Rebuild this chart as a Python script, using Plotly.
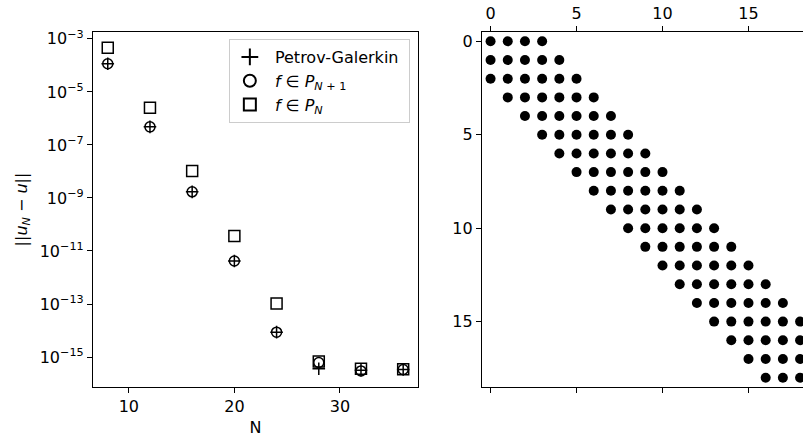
import plotly.graph_objects as go

# ---- left panel data ----
N_vals = [8, 12, 16, 20, 24, 28, 32, 36]
err_petrov = [1.15e-4, 4.8e-7, 1.7e-9, 4.2e-12, 8.7e-15, 3.6e-16, 3.2e-16, 3.4e-16]
err_pn1 = [1.15e-4, 4.8e-7, 1.7e-9, 4.2e-12, 8.7e-15, 6.2e-16, 3.0e-16, 3.4e-16]
err_pn = [4.6e-4, 2.5e-6, 1.05e-8, 3.7e-11, 1.05e-13, 6.8e-16, 3.6e-16, 3.5e-16]
ytick_exps = [-3, -5, -7, -9, -11, -13, -15]

# ---- right panel data: sparsity pattern (first / last nonzero column per row) ----
rows = list(range(19))
row_first = [0, 0, 0, 1, 2, 3, 4, 5, 6, 7, 8, 9, 10, 11, 12, 13, 14, 15, 16]
row_last = [3, 4, 5, 6, 7, 8, 9, 10, 11, 12, 13, 14, 15, 16, 17, 18, 19, 20, 21]

FONT = "DejaVu Sans"
FS = 16
fig = go.Figure()

mk = dict(color="rgba(0,0,0,0)", line=dict(color="black", width=1.5))
fig.add_trace(go.Scatter(x=N_vals, y=err_petrov, mode="markers", name="\u00a0Petrov-Galerkin\u00a0",
                         marker=dict(symbol="cross-thin", size=9, color="black",
                                     line=dict(color="black", width=1.5)),
                         xaxis="x", yaxis="y"))
fig.add_trace(go.Scatter(x=N_vals, y=err_pn1, mode="markers",
                         name="\u00a0<i>f</i> ∈ <i>P</i><sub><i>N</i> + 1</sub>",
                         marker=dict(symbol="circle", size=10, **mk), xaxis="x", yaxis="y"))
fig.add_trace(go.Scatter(x=N_vals, y=err_pn, mode="markers",
                         name="\u00a0<i>f</i> ∈ <i>P</i><sub><i>N</i></sub>",
                         marker=dict(symbol="square", size=11, **mk), xaxis="x", yaxis="y"))

sx, sy = [], []
for r, a, b in zip(rows, row_first, row_last):
    for c in range(a, b + 1):
        sx.append(c)
        sy.append(r)
fig.add_trace(go.Scatter(x=sx, y=sy, mode="markers", showlegend=False,
                         marker=dict(symbol="circle", size=10, color="black"),
                         xaxis="x2", yaxis="y2"))

axcommon = dict(showgrid=False, zeroline=False, showline=True, linecolor="black", linewidth=1.2,
                ticks="outside", ticklen=5, tickwidth=1.2, tickcolor="black", automargin=False,
                tickfont=dict(family=FONT, size=FS, color="black"))

fig.update_layout(
    width=803, height=443, margin=dict(l=0, r=0, t=0, b=0),
    paper_bgcolor="white", plot_bgcolor="white",
    font=dict(family=FONT, size=FS, color="black"),
    xaxis=dict(domain=[0.1158, 0.5205], range=[6.6, 37.4], mirror=True,
               tickvals=[10, 20, 30],
               title=dict(text="N", font=dict(family=FONT, size=FS), standoff=6),
               **axcommon),
    yaxis=dict(domain=[0.1264, 0.9278], type="log", range=[-16.13, -2.74], mirror=True,
               tickvals=[10 ** e for e in ytick_exps],
               ticktext=["10<sup>−%d</sup>" % (-e) for e in ytick_exps],
               title=dict(text="||<i>u</i><sub><i>N</i></sub> − <i>u</i>||",
                          font=dict(family=FONT, size=FS), standoff=8),
               **axcommon),
    xaxis2=dict(domain=[0.6002, 1.0], range=[-0.5, 18.17], side="top", anchor="y2",
                mirror="ticks", tickvals=[0, 5, 10, 15], **axcommon),
    yaxis2=dict(domain=[0.1264, 0.9278], range=[18.5, -0.5], anchor="x2",
                tickvals=[0, 5, 10, 15], **axcommon),
    legend=dict(x=0.285, y=0.912, xanchor="left", yanchor="top",
                bgcolor="white", bordercolor="#cccccc", borderwidth=1,
                font=dict(family=FONT, size=FS, color="black"),
                itemsizing="constant", tracegroupgap=0),
)

fig.write_html("out.html", config={"displayModeBar": False},
               post_script="document.body.style.margin='0';document.body.style.overflow='hidden';")
